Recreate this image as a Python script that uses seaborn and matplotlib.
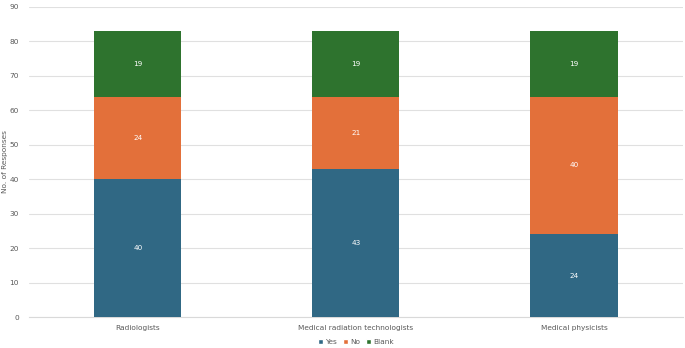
import numpy as np
import pandas as pd
import matplotlib.pyplot as plt
import seaborn as sns
from matplotlib.patches import Patch

groups = ["Radiologists", "Medical radiation technologists", "Medical physicists"]
yes = [40, 43, 24]
no = [24, 21, 40]
blank = [19, 19, 19]

colors = {"Yes": "#306884", "No": "#E3703A", "Blank": "#2E732E"}

sns.set_style("white")
plt.rcParams["font.family"] = ["DejaVu Sans"]

df = pd.DataFrame({"group": groups, "Yes": yes, "No": no, "Blank": blank})
df["yes_no"] = df["Yes"] + df["No"]
df["total"] = df["yes_no"] + df["Blank"]

fig = plt.figure(figsize=(6.85, 3.48), dpi=100)
ax = fig.add_axes([0.042, 0.089, 0.955, 0.891])

# layered bars, tallest first
sns.barplot(data=df, x="group", y="total", color=colors["Blank"], width=0.4,
            saturation=1, linewidth=0, ax=ax, zorder=3)
sns.barplot(data=df, x="group", y="yes_no", color=colors["No"], width=0.4,
            saturation=1, linewidth=0, ax=ax, zorder=3)
sns.barplot(data=df, x="group", y="Yes", color=colors["Yes"], width=0.4,
            saturation=1, linewidth=0, ax=ax, zorder=3)

for i in range(len(df)):
    bottom = 0
    for key in ["Yes", "No", "Blank"]:
        v = df[key][i]
        ax.text(i, bottom + v / 2, str(v), ha="center", va="center",
                color="white", fontsize=5.2, zorder=4)
        bottom += v

ax.set_ylim(0, 90)
ax.set_yticks(np.arange(0, 91, 10))
ax.set_xlim(-0.5, 2.5)
ax.yaxis.grid(True, color="#E0E0E0", linewidth=0.8, zorder=0)
ax.set_axisbelow(True)
for s in ["top", "right", "left"]:
    ax.spines[s].set_visible(False)
ax.spines["bottom"].set_color("#D9D9D9")
ax.tick_params(axis="y", length=0, labelsize=5.3, colors="#595959", pad=7)
ax.tick_params(axis="x", length=0, labelsize=5.3, colors="#595959", pad=6)
ax.set_xlabel("")
ax.set_ylabel("No. of Responses", fontsize=5.3, color="#595959")
ax.yaxis.set_label_coords(-0.032, 0.5)

handles = [Patch(facecolor=colors[k], label=k) for k in ["Yes", "No", "Blank"]]
fig.legend(handles=handles, loc="center", bbox_to_anchor=(0.52, 0.017), ncol=3,
           frameon=False, fontsize=5.3, handlelength=0.7, handleheight=0.7,
           handletextpad=0.3, columnspacing=0.8, labelcolor="#595959")

fig.savefig("out.png", dpi=100)
